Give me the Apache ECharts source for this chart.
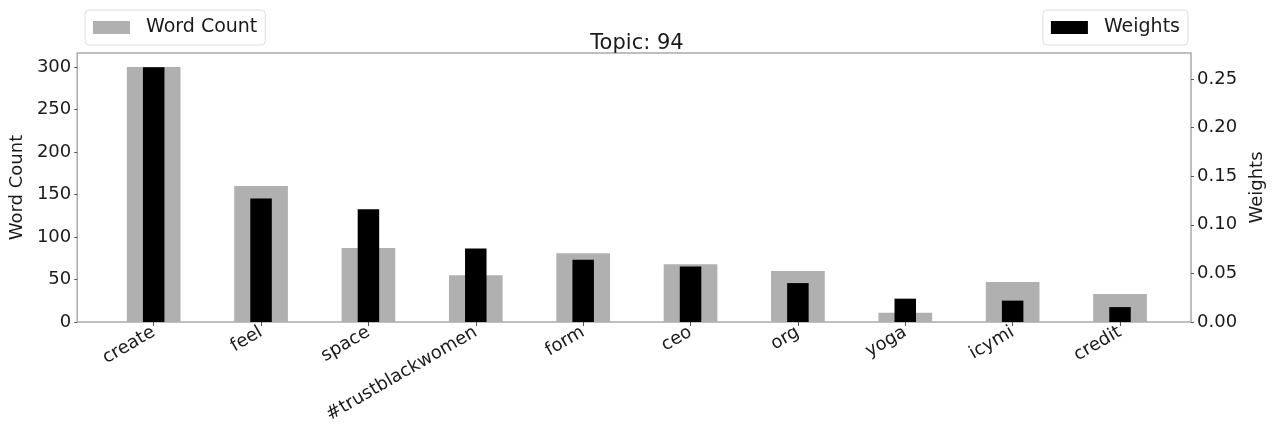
<!DOCTYPE html>
<html>
<head>
<meta charset="utf-8">
<script src="https://cdn.jsdelivr.net/npm/echarts@6/dist/echarts.min.js"></script>
<style>html,body{margin:0;padding:0;background:#fff}#c{width:1274px;height:429px}</style>
</head>
<body>
<div id="c"></div>
<script>
const categories = ['create','feel','space','#trustblackwomen','form','ceo','org','yoga','icymi','credit'];
const wordCount = [300, 160, 87, 55, 81, 68, 60, 11, 47, 33];
const weights = [0.262, 0.127, 0.116, 0.0755, 0.064, 0.057, 0.040, 0.024, 0.022, 0.0153];
const leftTicks = [0, 50, 100, 150, 200, 250, 300];
const rightTicks = [0.00, 0.05, 0.10, 0.15, 0.20, 0.25];
const title = 'Topic: 94';

const FONT = 'DejaVu Sans';
const spine = '#aaaaaa';
const chart = echarts.init(document.getElementById('c'), null, {renderer: 'canvas'});
const leftMax = 316.5, rightMax = 0.2767;

chart.setOption({
  animation: false,
  textStyle: {fontFamily: FONT},
  title: {text: title, left: 'center', top: 28, textStyle: {fontFamily: FONT, fontSize: 21, fontWeight: 'normal', color: '#1a1a1a'}},
  legend: [
    {data: ['Word Count'], left: 85, top: 10, icon: 'rect', itemWidth: 37, itemHeight: 13,
     borderColor: '#dddddd', borderWidth: 1, borderRadius: 4, padding: [8, 8, 8, 8],
     textStyle: {fontFamily: FONT, fontSize: 19, color: '#1a1a1a', padding: [0, 0, 0, 11]}},
    {data: ['Weights'], right: 86, top: 10, icon: 'rect', itemWidth: 37, itemHeight: 13,
     borderColor: '#dddddd', borderWidth: 1, borderRadius: 4, padding: [8, 8, 8, 8],
     textStyle: {fontFamily: FONT, fontSize: 19, color: '#1a1a1a', padding: [0, 0, 0, 11]}}
  ],
  grid: [
    {left: 76, right: 76, top: 53, bottom: 107, show: true, borderColor: spine, borderWidth: 1.5, backgroundColor: 'transparent'},
    {left: 100, right: 100.3, top: 53, bottom: 107}
  ],
  xAxis: [
    {type: 'value', gridIndex: 0, min: 0, max: 1, show: false},
    {type: 'category', gridIndex: 1, data: categories,
     axisLine: {show: false},
     axisTick: {show: true, alignWithLabel: true, length: 4, lineStyle: {color: '#555'}},
     axisLabel: {rotate: 30, fontSize: 18, color: '#1a1a1a', margin: 9, fontFamily: FONT, interval: 0}},
    {type: 'category', gridIndex: 1, data: categories, show: false}
  ],
  yAxis: [
    {type: 'value', gridIndex: 0, position: 'left', min: 0, max: leftMax, interval: 50,
     name: 'Word Count', nameLocation: 'middle', nameGap: 45, nameRotate: 90,
     nameTextStyle: {fontSize: 18, color: '#1a1a1a', fontFamily: FONT},
     axisLine: {show: false}, splitLine: {show: false},
     axisTick: {show: true, length: 3, customValues: leftTicks, lineStyle: {color: '#555'}},
     axisLabel: {fontSize: 18, color: '#1a1a1a', margin: 6, fontFamily: FONT,
                 customValues: leftTicks, formatter: v => String(v)}},
    {type: 'value', gridIndex: 0, position: 'right', min: 0, max: rightMax, interval: 0.05,
     name: 'Weights', nameLocation: 'middle', nameGap: 55, nameRotate: 90,
     nameTextStyle: {fontSize: 18, color: '#1a1a1a', fontFamily: FONT},
     axisLine: {show: false}, splitLine: {show: false},
     axisTick: {show: true, length: 3, customValues: rightTicks, lineStyle: {color: '#555'}},
     axisLabel: {fontSize: 18, color: '#1a1a1a', margin: 6, fontFamily: FONT,
                 customValues: rightTicks, formatter: v => v.toFixed(2)}},
    {type: 'value', gridIndex: 1, min: 0, max: leftMax, show: false},
    {type: 'value', gridIndex: 1, min: 0, max: rightMax, show: false}
  ],
  series: [
    {name: 'Word Count', type: 'bar', xAxisIndex: 1, yAxisIndex: 2, data: wordCount,
     barWidth: 53.7, itemStyle: {color: '#b0b0b0'}},
    {name: 'Weights', type: 'bar', xAxisIndex: 2, yAxisIndex: 3, data: weights,
     barWidth: 21.5, itemStyle: {color: '#000000'}}
  ]
});
</script>
</body>
</html>
